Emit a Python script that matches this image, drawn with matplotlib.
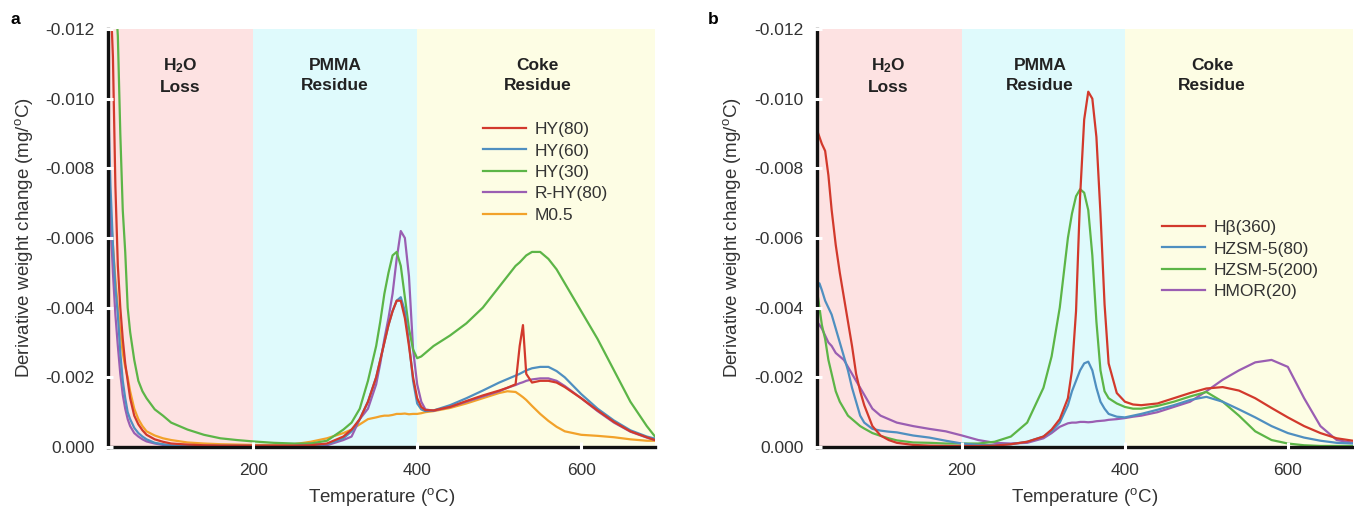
import matplotlib
matplotlib.use("Agg")
import matplotlib.pyplot as plt

plt.rcParams['font.family'] = ['Liberation Sans', 'DejaVu Sans']
plt.rcParams['mathtext.fontset'] = 'custom'
plt.rcParams['mathtext.rm'] = 'Liberation Sans'
plt.rcParams['mathtext.bf'] = 'Liberation Sans:bold'
plt.rcParams['mathtext.it'] = 'Liberation Sans:italic'

# ---------------- Panel a data ----------------
T_a = [23, 26, 29, 32, 35, 38, 41, 44, 47, 50, 55, 60, 65, 70, 80, 90, 100, 120, 140, 160,
       180, 200, 225, 250, 270, 290, 310, 320, 330, 340, 350, 355, 360, 365, 370, 375, 380,
       385, 390, 395, 400, 405, 410, 420, 440, 460, 480, 500, 510, 520, 525, 529, 533, 540,
       550, 560, 570, 580, 600, 620, 640, 660, 680, 690]

hy80 = [-0.0140, -0.0130, -0.0112, -0.0075, -0.0052, -0.0040, -0.0031, -0.0024, -0.0019, -0.0014,
        -0.0009, -0.00065, -0.00048, -0.00035, -0.00022, -0.00015, -0.0001, -0.00007, -0.00005, -0.00004,
        -0.00004, -0.00004, -0.00004, -0.00004, -0.00005, -0.0001, -0.0003, -0.0005, -0.0008, -0.0013,
        -0.0020, -0.0025, -0.0030, -0.0035, -0.0039, -0.0042, -0.0042, -0.0037, -0.0029, -0.0020,
        -0.0014, -0.00115, -0.00106, -0.00105, -0.00115, -0.00132, -0.00148, -0.00162, -0.0017, -0.0018,
        -0.0029, -0.0035, -0.0021, -0.00185, -0.0019, -0.0019, -0.00185, -0.00172, -0.0014, -0.00105,
        -0.00072, -0.00045, -0.00028, -0.0002]

hy60 = [-0.0101, -0.0075, -0.0058, -0.0046, -0.0038, -0.0027, -0.0019, -0.0014, -0.0010, -0.0008,
        -0.00055, -0.0004, -0.0003, -0.00022, -0.00012, -0.00008, -0.00005, -0.00003, -0.00003, -0.00003,
        -0.00003, -0.00003, -0.00003, -0.00003, -0.00004, -0.00008, -0.00025, -0.00045, -0.0008, -0.0013,
        -0.0020, -0.0025, -0.0030, -0.0035, -0.0039, -0.0042, -0.0043, -0.0039, -0.0030, -0.0019,
        -0.00125, -0.00108, -0.00103, -0.00105, -0.0012, -0.0014, -0.00162, -0.00185, -0.00195, -0.00205,
        -0.0021, -0.00215, -0.0022, -0.00226, -0.0023, -0.0023, -0.00218, -0.0020, -0.00152, -0.0011,
        -0.00076, -0.00048, -0.0003, -0.00024]

hy30 = [-0.0150, -0.0145, -0.0140, -0.0130, -0.0118, -0.0090, -0.0068, -0.0056, -0.0040, -0.0033,
        -0.0025, -0.0019, -0.0016, -0.0014, -0.00108, -0.0009, -0.0007, -0.0005, -0.00035, -0.00025,
        -0.0002, -0.00016, -0.00012, -0.0001, -0.0001, -0.00018, -0.0005, -0.0007, -0.0011, -0.0019,
        -0.0029, -0.0036, -0.0044, -0.0050, -0.0055, -0.0056, -0.0052, -0.0043, -0.0034, -0.0028,
        -0.00255, -0.0026, -0.0027, -0.0029, -0.0032, -0.00355, -0.0040, -0.0046, -0.0049, -0.0052,
        -0.0053, -0.0054, -0.0055, -0.0056, -0.0056, -0.0054, -0.0051, -0.0047, -0.0039, -0.0031,
        -0.0022, -0.0013, -0.0006, -0.0003]

rhy80 = [-0.0088, -0.0065, -0.0050, -0.0038, -0.0029, -0.0021, -0.0015, -0.0011, -0.0008, -0.0006,
         -0.0004, -0.0003, -0.00022, -0.00016, -0.0001, -0.00006, -0.00003, -0.00003, -0.00003, -0.00003,
         -0.00003, -0.00003, -0.00003, -0.00003, -0.0001, -0.00005, -0.0002, -0.0003, -0.0008, -0.0011,
         -0.0018, -0.0024, -0.0031, -0.0037, -0.0044, -0.0054, -0.0062, -0.0060, -0.0049, -0.0028,
         -0.0018, -0.0013, -0.00108, -0.00104, -0.00115, -0.0013, -0.00145, -0.0016, -0.0017, -0.00178,
         -0.00183, -0.00186, -0.0019, -0.00194, -0.00197, -0.00197, -0.0019, -0.00175, -0.0014, -0.00103,
         -0.0007, -0.00044, -0.00027, -0.0002]

m05 = [-0.0080, -0.0068, -0.0058, -0.0048, -0.0040, -0.0033, -0.0027, -0.0023, -0.0020, -0.0016,
       -0.0011, -0.0008, -0.0006, -0.00045, -0.00033, -0.00025, -0.0002, -0.00013, -0.0001, -0.00008,
       -0.00007, -0.00006, -0.00006, -0.00008, -0.00015, -0.00025, -0.0004, -0.0005, -0.00065, -0.0008,
       -0.00085, -0.00088, -0.0009, -0.0009, -0.00092, -0.00095, -0.00095, -0.00096, -0.00094, -0.00095,
       -0.00095, -0.00097, -0.001, -0.00103, -0.00112, -0.00125, -0.0014, -0.00155, -0.0016, -0.00158,
       -0.0015, -0.00143, -0.00135, -0.00118, -0.00095, -0.00075, -0.00058, -0.00045, -0.00035, -0.00032,
       -0.00028, -0.00022, -0.00018, -0.00018]

labels_a = ['HY(80)', 'HY(60)', 'HY(30)', 'R-HY(80)', 'M0.5']

# ---------------- Panel b data ----------------
T_b = [22, 25, 28, 32, 36, 40, 45, 50, 55, 60, 65, 70, 75, 80, 90, 100, 110, 120, 140, 160,
       180, 200, 220, 240, 260, 280, 300, 310, 320, 330, 335, 340, 345, 350, 355, 360, 365,
       370, 375, 380, 390, 400, 410, 420, 440, 460, 480, 500, 520, 540, 560, 580, 600, 620,
       640, 660, 680]

hbeta = [-0.0091, -0.0089, -0.0087, -0.0085, -0.0078, -0.0068, -0.0058, -0.0050, -0.0043, -0.0036,
         -0.0029, -0.0021, -0.0016, -0.0012, -0.0006, -0.00033, -0.0002, -0.00012, -0.00006, -0.00004,
         -0.00003, -0.00003, -0.00003, -0.00004, -0.00008, -0.00015, -0.0003, -0.0005, -0.0008, -0.0014,
         -0.0022, -0.0039, -0.0072, -0.0094, -0.0102, -0.0100, -0.0089, -0.0067, -0.0041, -0.0024,
         -0.00155, -0.0013, -0.00122, -0.0012, -0.00125, -0.0014, -0.00155, -0.00168, -0.00172, -0.00162,
         -0.0014, -0.00112, -0.00085, -0.0006, -0.0004, -0.00025, -0.00018]

hzsm80 = [-0.0045, -0.0047, -0.0045, -0.0042, -0.0040, -0.0038, -0.0034, -0.0030, -0.0026, -0.0022,
          -0.0017, -0.0013, -0.0009, -0.0007, -0.00052, -0.00047, -0.00044, -0.00042, -0.00033, -0.00027,
          -0.00018, -0.0001, -0.00006, -0.00005, -0.00008, -0.00015, -0.0003, -0.00045, -0.0007, -0.0012,
          -0.0016, -0.0019, -0.0022, -0.0024, -0.00245, -0.0022, -0.0017, -0.0013, -0.0011, -0.00095,
          -0.00087, -0.00085, -0.0009, -0.00095, -0.00107, -0.0012, -0.00135, -0.00144, -0.0013, -0.00108,
          -0.00085, -0.0006, -0.0004, -0.00027, -0.00018, -0.00012, -0.0001]

hzsm200 = [-0.0045, -0.0040, -0.0035, -0.0031, -0.0025, -0.0021, -0.0016, -0.0013, -0.0011, -0.0009,
           -0.0008, -0.0007, -0.0006, -0.00053, -0.0004, -0.00032, -0.00025, -0.00019, -0.00013, -0.00012,
           -0.0001, -0.0001, -0.0001, -0.00015, -0.0003, -0.0007, -0.0017, -0.0026, -0.0040, -0.0060,
           -0.0067, -0.0072, -0.0074, -0.0073, -0.0068, -0.0055, -0.0036, -0.0022, -0.0016, -0.0014,
           -0.00125, -0.00115, -0.0011, -0.0011, -0.00118, -0.0013, -0.00145, -0.00158, -0.0013, -0.0009,
           -0.00045, -0.0002, -0.0001, -0.00005, -0.00003, -0.00003, -0.00003]

hmor20 = [-0.0036, -0.0035, -0.0034, -0.0032, -0.0030, -0.0029, -0.0027, -0.0026, -0.0025, -0.0023,
          -0.0021, -0.0019, -0.0017, -0.0015, -0.0011, -0.0009, -0.0008, -0.0007, -0.0006, -0.00052,
          -0.00045, -0.00033, -0.0002, -0.00012, -0.0001, -0.00012, -0.00025, -0.0004, -0.00058, -0.00068,
          -0.0007, -0.0007, -0.00072, -0.00072, -0.00071, -0.00072, -0.00074, -0.00075, -0.00076, -0.00078,
          -0.0008, -0.00083, -0.00087, -0.0009, -0.001, -0.00115, -0.0013, -0.0016, -0.00193, -0.0022,
          -0.00243, -0.0025, -0.0023, -0.0014, -0.0006, -0.0002, -0.00012]

labels_b = ['H\u03b2(360)', 'HZSM-5(80)', 'HZSM-5(200)', 'HMOR(20)']

regions = [('H$_\\mathbf{2}$O\nLoss', 0, 200), ('PMMA\nResidue', 200, 400), ('Coke\nResidue', 400, 700)]
region_colors = ['#fde2e2', '#dffafc', '#fdfde4']
y_ticks = [0.0, -0.002, -0.004, -0.006, -0.008, -0.010, -0.012]
x_ticks = [200, 400, 600]

c_red = '#d2392c'
c_blue = '#4f8fc0'
c_green = '#5cb547'
c_purple = '#9a5eb2'
c_orange = '#f2a22a'

W, H = 1354, 509
fig = plt.figure(figsize=(W / 100, H / 100), dpi=100)

def px(x0, y0, x1, y1):
    return [x0 / W, 1 - y1 / H, (x1 - x0) / W, (y1 - y0) / H]

ax_a = fig.add_axes(px(108, 29, 655, 447))
ax_b = fig.add_axes(px(817, 29, 1353, 447))

def style(ax, xmin, xmax, label_x_positions, ylabel_x):
    ax.set_xlim(xmin, xmax)
    ax.set_ylim(0, -0.012)
    ax.set_facecolor('white')
    for (lab, a, b), col in zip(regions, region_colors):
        ax.axvspan(max(a, xmin), min(b, xmax), color=col, lw=0, zorder=0)
    for (lab, a, b), lx in zip(regions, label_x_positions):
        ax.text(lx, 0.888, lab, transform=ax.get_xaxis_transform(), ha='center', va='center',
                fontsize=12.5, fontweight='bold', color='#222222', linespacing=1.4)
    for s in ['top', 'right']:
        ax.spines[s].set_visible(False)
    for s in ['left', 'bottom']:
        ax.spines[s].set_linewidth(2.4)
        ax.spines[s].set_color('#111111')
    ax.set_yticks(y_ticks)
    ax.set_yticklabels(['%.3f' % v if v != 0 else '0.000' for v in y_ticks])
    ax.set_xticks(x_ticks)
    ax.tick_params(direction='inout', length=7, width=2.2, color='white',
                   labelsize=12.5, labelcolor='#333333')
    ax.tick_params(axis='y', pad=6)
    ax.tick_params(axis='x', pad=8)
    ax.xaxis.set_zorder(3)
    ax.yaxis.set_zorder(3)
    ax.set_xlabel('Temperature ($^{\\mathrm{o}}$C)', fontsize=13.5, color='#333333', labelpad=6)
    ax.set_ylabel('Derivative weight change (mg/$^{\\mathrm{o}}$C)', fontsize=13.5, color='#333333')
    ax.yaxis.set_label_coords(ylabel_x, 0.5)

style(ax_a, 23, 690, [111, 300, 547], (35 - 108) / 547)
style(ax_b, 22, 680, [110, 296, 507], (743 - 817) / 536)

lw = 1.6
ax_a.plot(T_a, m05, color=c_orange, lw=lw, label=labels_a[4], zorder=2)
ax_a.plot(T_a, rhy80, color=c_purple, lw=lw, label=labels_a[3], zorder=2)
ax_a.plot(T_a, hy30, color=c_green, lw=lw, label=labels_a[2], zorder=2)
ax_a.plot(T_a, hy60, color=c_blue, lw=lw, label=labels_a[1], zorder=2)
ax_a.plot(T_a, hy80, color=c_red, lw=lw, label=labels_a[0], zorder=2)

ax_b.plot(T_b, hmor20, color=c_purple, lw=lw, label=labels_b[3], zorder=2)
ax_b.plot(T_b, hzsm200, color=c_green, lw=lw, label=labels_b[2], zorder=2)
ax_b.plot(T_b, hzsm80, color=c_blue, lw=lw, label=labels_b[1], zorder=2)
ax_b.plot(T_b, hbeta, color=c_red, lw=lw, label=labels_b[0], zorder=2)

def legend(ax, order, x, y):
    h, l = ax.get_legend_handles_labels()
    d = dict(zip(l, h))
    fig.legend([d[k] for k in order], order, loc='upper left',
               bbox_to_anchor=(x / W, 1 - y / H), bbox_transform=fig.transFigure,
               frameon=False, fontsize=12.5, handlelength=2.5, handletextpad=0.45,
               labelspacing=0.36, borderpad=0, borderaxespad=0, labelcolor='#333333')

legend(ax_a, labels_a, 483, 122)
legend(ax_b, labels_b, 1162, 220)

fig.text(15 / W, 1 - 20 / H, 'a', fontsize=12.5, fontweight='bold', ha='center', va='center')
fig.text(713 / W, 1 - 20 / H, 'b', fontsize=12.5, fontweight='bold', ha='center', va='center')

fig.savefig('out.png', dpi=100)
